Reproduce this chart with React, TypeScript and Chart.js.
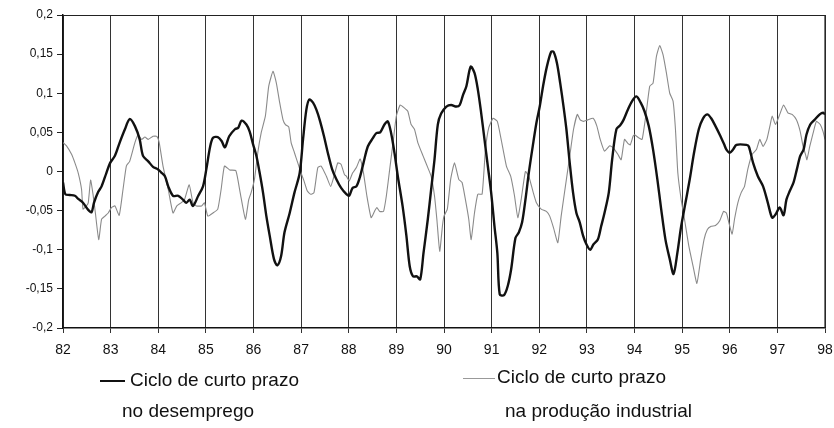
import React, { useEffect, useRef } from 'react';
import { Chart, registerables } from 'chart.js';

Chart.register(...registerables);

// Years (fractional) and short-term cycle of unemployment
const unempX = [
  82.00,82.05,82.14,82.25,82.32,82.42,82.53,82.60,82.65,82.74,
  82.81,82.91,82.99,83.09,83.19,83.30,83.40,83.51,83.61,83.68,
  83.79,83.89,83.99,84.06,84.14,84.21,84.31,84.42,84.52,84.59,
  84.66,84.73,84.84,84.94,85.01,85.09,85.15,85.25,85.33,85.40,
  85.49,85.61,85.68,85.75,85.85,85.92,85.99,86.06,86.13,86.20,
  86.27,86.34,86.43,86.50,86.58,86.65,86.76,86.86,86.97,87.04,
  87.11,87.17,87.25,87.32,87.39,87.48,87.56,87.65,87.74,87.84,
  87.95,88.01,88.08,88.16,88.23,88.31,88.40,88.51,88.58,88.66,
  88.75,88.82,88.89,88.96,89.03,89.13,89.21,89.28,89.35,89.43,
  89.50,89.57,89.66,89.73,89.80,89.87,89.94,90.05,90.15,90.26,
  90.33,90.40,90.47,90.56,90.64,90.71,90.78,90.85,90.92,90.99,
  91.06,91.12,91.17,91.26,91.34,91.41,91.50,91.57,91.64,91.71,
  91.78,91.87,91.94,92.01,92.08,92.16,92.25,92.30,92.37,92.44,
  92.51,92.57,92.64,92.71,92.78,92.85,92.92,92.99,93.07,93.14,
  93.23,93.30,93.37,93.46,93.53,93.62,93.70,93.77,93.86,93.95,
  94.04,94.13,94.21,94.30,94.39,94.48,94.56,94.65,94.74,94.82,
  94.90,94.98,95.07,95.16,95.25,95.35,95.44,95.53,95.61,95.70,
  95.79,95.88,95.93,96.00,96.07,96.14,96.35,96.40,96.49,96.59,
  96.70,96.80,96.89,96.96,97.05,97.13,97.19,97.26,97.34,97.41,
  97.48,97.55,97.61,97.69,97.78,97.89,97.96,98.00,
];
const unempY = [
  -0.014,-0.029,-0.030,-0.031,-0.035,-0.040,-0.049,-0.052,-0.040,-0.026,
  -0.019,-0.002,0.011,0.020,0.037,0.054,0.067,0.058,0.041,0.020,
  0.013,0.006,0.003,-0.001,-0.006,-0.019,-0.031,-0.031,-0.036,-0.040,
  -0.036,-0.044,-0.031,-0.019,0.003,0.032,0.043,0.044,0.039,0.031,
  0.045,0.054,0.056,0.065,0.060,0.051,0.035,0.020,-0.002,-0.027,
  -0.057,-0.082,-0.112,-0.120,-0.108,-0.078,-0.053,-0.027,-0.002,0.041,
  0.079,0.092,0.088,0.079,0.066,0.045,0.024,0.003,-0.010,-0.021,
  -0.029,-0.031,-0.021,-0.019,-0.008,0.011,0.032,0.043,0.049,0.050,
  0.060,0.064,0.049,0.024,-0.006,-0.044,-0.082,-0.121,-0.134,-0.134,
  -0.138,-0.104,-0.061,-0.023,0.015,0.060,0.074,0.083,0.085,0.083,
  0.085,0.098,0.109,0.134,0.126,0.105,0.075,0.041,0.007,-0.027,
  -0.070,-0.104,-0.157,-0.158,-0.146,-0.125,-0.085,-0.078,-0.065,-0.036,
  -0.002,0.035,0.062,0.083,0.109,0.134,0.153,0.153,0.139,0.113,
  0.083,0.054,0.011,-0.027,-0.053,-0.065,-0.082,-0.093,-0.100,-0.093,
  -0.087,-0.070,-0.053,-0.027,0.015,0.054,0.059,0.066,0.079,0.090,
  0.096,0.088,0.077,0.058,0.028,-0.010,-0.048,-0.087,-0.112,-0.131,
  -0.104,-0.070,-0.040,-0.010,0.024,0.054,0.068,0.073,0.068,0.058,
  0.047,0.035,0.028,0.024,0.028,0.034,0.034,0.032,0.011,-0.006,
  -0.019,-0.040,-0.059,-0.055,-0.046,-0.056,-0.036,-0.025,-0.014,0.003,
  0.020,0.028,0.047,0.060,0.066,0.073,0.075,0.073,
];

// Years (fractional) and short-term cycle of industrial production
const indX = [
  82.00,82.07,82.18,82.25,82.32,82.39,82.42,82.49,82.53,82.58,
  82.63,82.68,82.75,82.81,82.88,82.95,83.02,83.09,83.18,83.26,
  83.33,83.40,83.51,83.58,83.65,83.72,83.79,83.89,83.97,84.02,
  84.10,84.21,84.31,84.39,84.48,84.55,84.65,84.73,84.80,84.91,
  84.97,85.04,85.15,85.25,85.32,85.39,85.50,85.63,85.72,85.83,
  85.90,85.95,86.02,86.09,86.16,86.25,86.32,86.41,86.48,86.55,
  86.62,86.67,86.74,86.79,86.86,86.93,87.00,87.06,87.13,87.20,
  87.27,87.35,87.42,87.53,87.62,87.69,87.77,87.84,87.91,87.95,
  88.01,88.08,88.16,88.24,88.31,88.38,88.47,88.54,88.59,88.65,
  88.73,88.79,88.86,88.93,89.00,89.08,89.17,89.24,89.31,89.38,
  89.45,89.56,89.66,89.73,89.80,89.85,89.91,89.97,90.00,90.07,
  90.14,90.22,90.31,90.38,90.45,90.52,90.57,90.64,90.71,90.80,
  90.87,90.94,91.03,91.12,91.20,91.31,91.40,91.48,91.55,91.62,
  91.71,91.78,91.87,91.94,92.04,92.15,92.22,92.30,92.39,92.46,
  92.57,92.65,92.72,92.80,92.86,92.93,93.02,93.13,93.21,93.28,
  93.37,93.48,93.56,93.65,93.72,93.79,93.86,93.91,93.97,94.00,
  94.09,94.16,94.25,94.32,94.39,94.46,94.53,94.60,94.67,94.74,
  94.81,94.86,94.91,94.98,95.05,95.14,95.23,95.31,95.39,95.46,
  95.53,95.61,95.70,95.79,95.87,95.93,95.98,96.05,96.10,96.17,
  96.24,96.31,96.38,96.47,96.56,96.63,96.70,96.78,96.85,96.89,
  96.96,97.05,97.13,97.22,97.31,97.40,97.48,97.54,97.59,97.62,
  97.68,97.75,97.82,97.90,97.96,98.00,
];
const indY = [
  0.037,0.033,0.022,0.011,-0.002,-0.023,-0.048,-0.044,-0.040,-0.011,
  -0.029,-0.053,-0.087,-0.061,-0.057,-0.053,-0.046,-0.044,-0.056,-0.023,
  0.007,0.013,0.037,0.047,0.041,0.044,0.041,0.045,0.045,0.037,
  0.007,-0.023,-0.053,-0.044,-0.040,-0.036,-0.017,-0.040,-0.044,-0.044,
  -0.040,-0.057,-0.053,-0.048,-0.023,0.007,0.002,0.001,-0.027,-0.061,
  -0.036,-0.027,-0.010,0.024,0.049,0.071,0.109,0.128,0.113,0.088,
  0.066,0.060,0.057,0.037,0.024,0.011,-0.002,-0.012,-0.025,-0.029,
  -0.027,0.005,0.007,-0.006,-0.019,-0.006,0.011,0.009,-0.004,-0.006,
  -0.012,-0.002,0.005,0.016,-0.002,-0.031,-0.059,-0.051,-0.046,-0.051,
  -0.051,-0.031,0.003,0.037,0.071,0.085,0.081,0.077,0.060,0.054,
  0.037,0.020,0.005,-0.006,-0.031,-0.061,-0.102,-0.068,-0.057,-0.048,
  -0.010,0.011,-0.010,-0.014,-0.036,-0.061,-0.087,-0.053,-0.029,-0.029,
  0.028,0.056,0.068,0.064,0.041,0.007,-0.006,-0.031,-0.059,-0.036,
  0.000,-0.006,-0.026,-0.040,-0.048,-0.051,-0.057,-0.072,-0.091,-0.057,
  -0.010,0.024,0.054,0.073,0.066,0.064,0.066,0.068,0.058,0.041,
  0.026,0.033,0.030,0.022,0.015,0.041,0.036,0.034,0.045,0.047,
  0.043,0.041,0.077,0.109,0.113,0.147,0.161,0.149,0.126,0.100,
  0.090,0.054,-0.002,-0.036,-0.061,-0.095,-0.121,-0.143,-0.112,-0.087,
  -0.074,-0.070,-0.069,-0.063,-0.051,-0.053,-0.065,-0.080,-0.061,-0.040,
  -0.027,-0.019,0.003,0.022,0.028,0.041,0.032,0.041,0.060,0.071,
  0.060,0.073,0.085,0.075,0.073,0.066,0.051,0.032,0.022,0.015,
  0.032,0.049,0.064,0.060,0.051,0.041,
];

const xMin = 82;
const xMax = 98;
const yMin = -0.2;
const yMax = 0.2;
const yStep = 0.05;

const legendUnemp = ['Ciclo de curto prazo', 'no desemprego'];
const legendInd = ['Ciclo de curto prazo', 'na produção industrial'];

const FONT = "'Liberation Sans', Arial, sans-serif";
const NARROW = "'Liberation Sans Narrow', 'Liberation Sans', Arial, sans-serif";

const framePlugin = {
  id: 'frame',
  afterDraw(chart: any) {
    const { ctx, chartArea } = chart;
    const { left, right, top, bottom } = chartArea;
    ctx.save();
    ctx.strokeStyle = '#222';
    ctx.lineWidth = 1.2;
    ctx.beginPath();
    ctx.moveTo(left, top + 0.5);
    ctx.lineTo(right, top + 0.5);
    ctx.lineTo(right, bottom);
    ctx.stroke();
    ctx.restore();
  },
};

export default function App() {
  const canvasRef = useRef<HTMLCanvasElement | null>(null);

  useEffect(() => {
    document.body.style.margin = '0';
    const canvas = canvasRef.current;
    if (!canvas) return;
    const chart = new Chart(canvas, {
      type: 'line',
      data: {
        datasets: [
          {
            label: 'Ciclo de curto prazo no desemprego',
            data: unempX.map((x, i) => ({ x, y: unempY[i] })),
            borderColor: '#111',
            borderWidth: 2.4,
            pointRadius: 0,
            tension: 0.3,
            fill: false,
          },
          {
            label: 'Ciclo de curto prazo na produção industrial',
            data: indX.map((x, i) => ({ x, y: indY[i] })),
            borderColor: '#8a8a8a',
            borderWidth: 1.1,
            pointRadius: 0,
            tension: 0.15,
            fill: false,
          },
        ],
      },
      options: {
        animation: false,
        responsive: false,
        maintainAspectRatio: false,
        layout: { padding: { left: 0, top: 15, right: 9, bottom: 60 } },
        plugins: {
          legend: { display: false },
          tooltip: { enabled: false },
        },
        scales: {
          x: {
            type: 'linear',
            min: xMin,
            max: xMax,
            afterFit: (s: any) => { s.height = 40; s.paddingLeft = 0; s.paddingRight = 0; },
            ticks: {
              stepSize: 1,
              color: '#111',
              font: { family: NARROW, size: 14 },
              padding: 9,
              maxRotation: 0,
              autoSkip: false,
              callback: (v: any) => String(Math.round(Number(v))),
            },
            grid: {
              color: '#333',
              lineWidth: 1,
              drawTicks: true,
              tickLength: 5,
            },
            border: { display: true, color: '#111', width: 1.5 },
          },
          y: {
            type: 'linear',
            min: yMin,
            max: yMax,
            afterFit: (s: any) => { s.width = 63; s.paddingTop = 0; s.paddingBottom = 0; },
            ticks: {
              stepSize: yStep,
              color: '#111',
              font: { family: FONT, size: 12 },
              padding: 4,
              callback: (v: any) => String(Math.round(Number(v) * 100) / 100).replace('.', ','),
            },
            grid: {
              drawOnChartArea: false,
              drawTicks: true,
              tickLength: 6,
              color: '#222',
            },
            border: { display: true, color: '#111', width: 1.5 },
          },
        },
      },
      plugins: [framePlugin],
    });
    return () => chart.destroy();
  }, []);

  const textStyle: React.CSSProperties = {
    position: 'absolute',
    fontFamily: NARROW,
    fontSize: 19,
    lineHeight: '20px',
    color: '#111',
    whiteSpace: 'nowrap',
  };

  return (
    <div style={{ position: 'relative', width: 834, height: 428, background: '#fff' }}>
      <canvas ref={canvasRef} width={834} height={428} style={{ width: 834, height: 428, display: 'block' }} />
      <div style={{ position: 'absolute', left: 100, top: 380, width: 25, borderTop: '2.5px solid #111' }} />
      <div style={{ ...textStyle, left: 130, top: 370 }}>{legendUnemp[0]}</div>
      <div style={{ ...textStyle, left: 122, top: 401 }}>{legendUnemp[1]}</div>
      <div style={{ position: 'absolute', left: 463, top: 378, width: 32, borderTop: '1px solid #999' }} />
      <div style={{ ...textStyle, left: 497, top: 367 }}>{legendInd[0]}</div>
      <div style={{ ...textStyle, left: 505, top: 401 }}>{legendInd[1]}</div>
    </div>
  );
}
